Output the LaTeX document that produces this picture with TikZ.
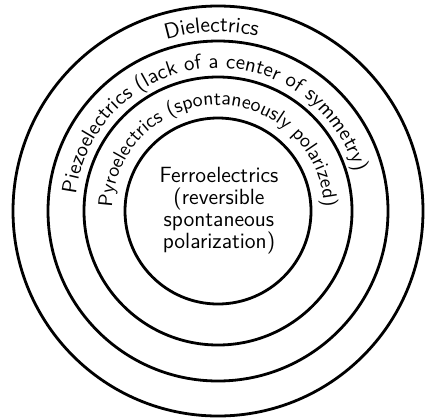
\documentclass[tikz,border=0pt]{standalone}
\usetikzlibrary{decorations.text}
\begin{document}
\begin{tikzpicture}[x=0.5pt, y=0.5pt, line join=round, line cap=round, font=\sffamily]
		\def\rD{205} \def\rZ{170} \def\rY{134} \def\rF{93} % radii
		\useasboundingbox (-218,-207) rectangle (213,211);
		\tikzset{ring/.style={line width=1.4pt},
			arctext/.style={decorate, decoration={text along path, text align=center, text={#1}}}}
		\foreach \r in {\rD,\rZ,\rY,\rF} \draw[ring] (0,0) circle(\r);
		% curved labels
		\path[arctext={|\fontsize{11}{13}\selectfont\sffamily|Dielectrics}] (128:179) arc[start angle=128, end angle=56, radius=179];
		\path[arctext={|\fontsize{10.5}{13}\selectfont\sffamily|Piezoelectrics (lack of a center of symmetry)}] (176:143) arc[start angle=176, end angle=13, radius=143];
		\path[arctext={|\fontsize{10}{12}\selectfont\sffamily|Pyroelectrics (spontaneously polarized)}] (178:106) arc[start angle=178, end angle=2, radius=106];
		\node[align=center, font=\fontsize{11}{11}\selectfont\sffamily] (ferro) at (1,0) {Ferroelectrics\\(reversible\\spontaneous\\polarization)};
\end{tikzpicture}
\end{document}
